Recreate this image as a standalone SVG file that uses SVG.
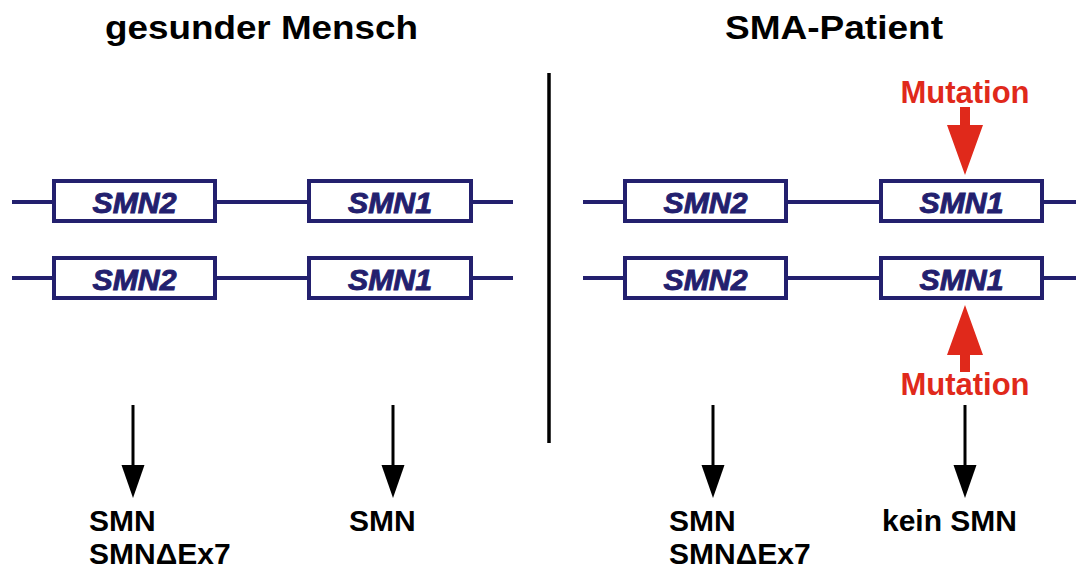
<svg xmlns="http://www.w3.org/2000/svg" width="1076" height="569" viewBox="0 0 1076 569">
  <style>
    .title { font-family: "Liberation Sans", Arial, sans-serif; font-weight: bold; font-size: 34px; fill: #000; }
    .gene-line { stroke: #23206e; stroke-width: 4; fill: none; }
    .gene-box { stroke: #23206e; stroke-width: 4; fill: #fff; }
    .gene-label { font-family: "Liberation Sans", Arial, sans-serif; font-weight: bold; font-style: italic; font-size: 29px; fill: #23206e; stroke: #23206e; stroke-width: 0.9; text-anchor: middle; }
    .mut { font-family: "Liberation Sans", Arial, sans-serif; font-weight: bold; font-size: 31px; fill: #e0291b; text-anchor: middle; }
    .mut-arrow { fill: #e0291b; }
    .out { font-family: "Liberation Sans", Arial, sans-serif; font-weight: bold; font-size: 30px; fill: #000; }
    .conn { stroke: #000; stroke-width: 3; fill: none; }
    .head { fill: #000; }
  </style>
  <rect width="1076" height="569" fill="#fff"/>

  <g id="titles">
    <text class="title" x="105" y="39" textLength="313" lengthAdjust="spacingAndGlyphs">gesunder Mensch</text>
    <text class="title" x="725" y="39" textLength="218" lengthAdjust="spacingAndGlyphs">SMA-Patient</text>
  </g>

  <g id="divider">
    <line x1="549" y1="73" x2="549" y2="443" stroke="#000" stroke-width="3.5"/>
  </g>

  <g id="chromosome-lines">
    <line class="gene-line" x1="12" y1="202" x2="513" y2="202"/>
    <line class="gene-line" x1="12" y1="278" x2="513" y2="278"/>
    <line class="gene-line" x1="583" y1="202" x2="1076" y2="202"/>
    <line class="gene-line" x1="583" y1="278" x2="1076" y2="278"/>
  </g>

  <g id="left-smn2-a">
    <rect class="gene-box" x="54" y="181" width="161" height="40"/>
    <text class="gene-label" x="134.5" y="213" textLength="84" lengthAdjust="spacingAndGlyphs">SMN2</text>
  </g>
  <g id="left-smn1-a">
    <rect class="gene-box" x="309" y="181" width="162" height="40"/>
    <text class="gene-label" x="390" y="213" textLength="84" lengthAdjust="spacingAndGlyphs">SMN1</text>
  </g>
  <g id="left-smn2-b">
    <rect class="gene-box" x="54" y="258" width="161" height="40"/>
    <text class="gene-label" x="134.5" y="290" textLength="84" lengthAdjust="spacingAndGlyphs">SMN2</text>
  </g>
  <g id="left-smn1-b">
    <rect class="gene-box" x="309" y="258" width="162" height="40"/>
    <text class="gene-label" x="390" y="290" textLength="84" lengthAdjust="spacingAndGlyphs">SMN1</text>
  </g>
  <g id="right-smn2-a">
    <rect class="gene-box" x="625" y="181" width="161" height="40"/>
    <text class="gene-label" x="705.5" y="213" textLength="84" lengthAdjust="spacingAndGlyphs">SMN2</text>
  </g>
  <g id="right-smn1-a">
    <rect class="gene-box" x="881" y="181" width="161" height="40"/>
    <text class="gene-label" x="961.5" y="213" textLength="84" lengthAdjust="spacingAndGlyphs">SMN1</text>
  </g>
  <g id="right-smn2-b">
    <rect class="gene-box" x="625" y="258" width="161" height="40"/>
    <text class="gene-label" x="705.5" y="290" textLength="84" lengthAdjust="spacingAndGlyphs">SMN2</text>
  </g>
  <g id="right-smn1-b">
    <rect class="gene-box" x="881" y="258" width="161" height="40"/>
    <text class="gene-label" x="961.5" y="290" textLength="84" lengthAdjust="spacingAndGlyphs">SMN1</text>
  </g>

  <g id="mutation-top">
    <text class="mut" x="965" y="103">Mutation</text>
    <polygon class="mut-arrow" points="960,107 970,107 970,125 983,125 965,175 947,125 960,125"/>
  </g>
  <g id="mutation-bottom">
    <text class="mut" x="965" y="395">Mutation</text>
    <polygon class="mut-arrow" points="960,372 970,372 970,355 983,355 965,305 947,355 960,355"/>
  </g>

  <g id="connectors">
    <line class="conn" x1="133" y1="405" x2="133" y2="468"/>
    <polygon class="head" points="121.5,465 144.5,465 133,498"/>
    <line class="conn" x1="393" y1="405" x2="393" y2="468"/>
    <polygon class="head" points="381.5,465 404.5,465 393,498"/>
    <line class="conn" x1="713" y1="405" x2="713" y2="468"/>
    <polygon class="head" points="701.5,465 724.5,465 713,498"/>
    <line class="conn" x1="965" y1="405" x2="965" y2="468"/>
    <polygon class="head" points="953.5,465 976.5,465 965,498"/>
  </g>

  <g id="product-left-smn2">
    <text class="out" x="89" y="531">SMN</text>
    <text class="out" x="89" y="564">SMNΔEx7</text>
  </g>
  <g id="product-left-smn1">
    <text class="out" x="349" y="531">SMN</text>
  </g>
  <g id="product-right-smn2">
    <text class="out" x="669" y="531">SMN</text>
    <text class="out" x="669" y="564">SMNΔEx7</text>
  </g>
  <g id="product-right-smn1">
    <text class="out" x="882" y="531">kein SMN</text>
  </g>
</svg>
